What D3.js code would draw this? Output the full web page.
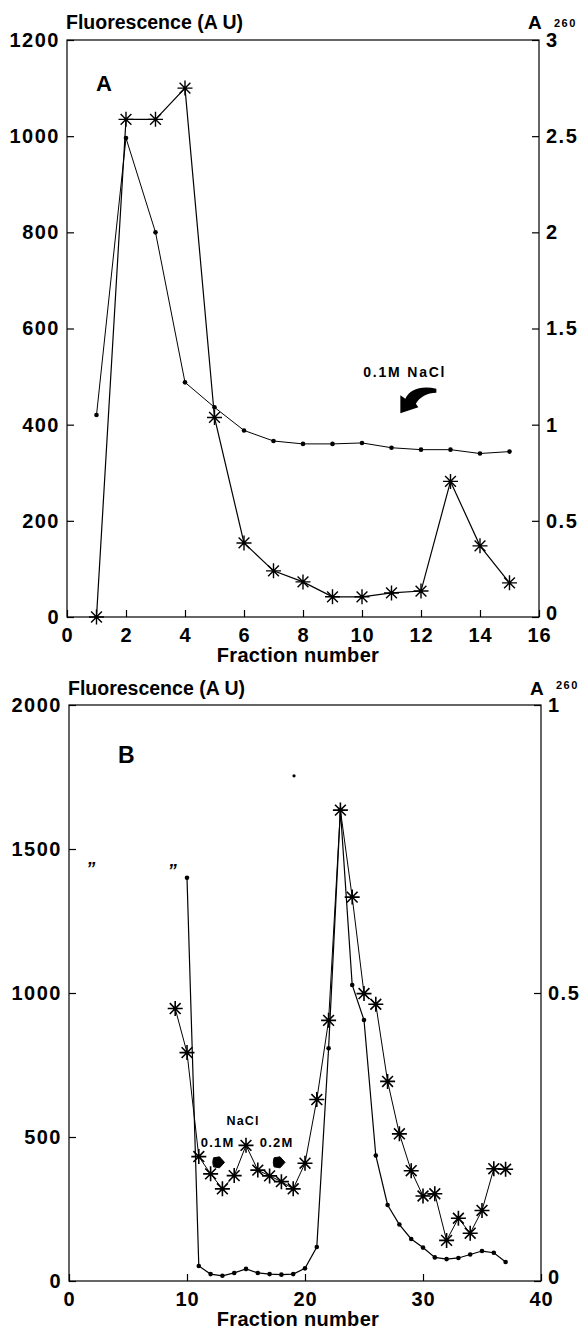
<!DOCTYPE html>
<html>
<head>
<meta charset="utf-8">
<script src="https://cdn.jsdelivr.net/npm/d3@7/dist/d3.min.js"></script>
<style>
  html, body { margin: 0; padding: 0; background: #fff; }
  svg { display: block; }
</style>
</head>
<body>
<script>
// ---------------- DATA ----------------
// Panel A
const aFractions = [1,2,3,4,5,6,7,8,9,10,11,12,13,14,15];
const aFluorescence = [0,1035,1035,1100,415,154,96,73,42,42,50,54,282,148,71];
const aA260 = [1.05,2.49,2.0,1.22,1.09,0.97,0.915,0.9,0.9,0.905,0.88,0.87,0.87,0.85,0.86];
const aXTicks = [0,2,4,6,8,10,12,14,16];
const aYTicks = [0,200,400,600,800,1000,1200];
const aY2Ticks = [0,0.5,1,1.5,2,2.5,3];
const aNaClLabel = [{f: 11.45, v: 500, text: "0.1M NaCl"}];
const aNaClArrow = [{f: 11.3, v: 424}];

// Panel B
const bStarFractions = [9,10,11,12,13,14,15,16,17,18,19,20,21,22,23,24,25,26,27,28,29,30,31,32,33,34,35,36,37];
const bFluorescence = [946,793,432,372,320,366,471,385,365,345,320,409,630,905,1635,1333,998,961,693,511,383,295,303,141,218,166,245,390,388];
const bDotFractions = [10,11,12,13,14,15,16,17,18,19,20,21,22,23,24,25,26,27,28,29,30,31,32,33,34,35,36,37];
const bA260 = [0.70,0.026,0.012,0.009,0.014,0.021,0.014,0.012,0.011,0.012,0.022,0.059,0.404,0.818,0.514,0.453,0.218,0.132,0.098,0.073,0.058,0.041,0.038,0.040,0.046,0.052,0.049,0.033];
const bStrayPoints = [{f: 19.07, a: 0.877}];
const bQuoteMarks = [{f: 1.84, v: 1447}, {f: 8.75, v: 1442}];
const bXTicks = [0,10,20,30,40];
const bYTicks = [0,500,1000,1500,2000];
const bY2Ticks = [0,0.5,1];
const bLabels = [
  {f: 14.75, v: 540, text: "NaCl", size: 12.5},
  {f: 12.6, v: 465, text: "0.1M", size: 13},
  {f: 17.6, v: 465, text: "0.2M", size: 13}
];
const bArrows = [{f: 12.67, v: 412}, {f: 17.8, v: 412}];

// ---------------- DRAWING ----------------
const W = 584, H = 1329;
const FONT = "'Liberation Sans', Arial, Helvetica, sans-serif";
const svg = d3.select("body").append("svg").attr("width", W).attr("height", H)
  .style("font-family", FONT);

function starPath(r) {
  const d = r * 0.72;
  return `M${-r},0L${r},0M0,${-r}L0,${r}M${-d},${-d}L${d},${d}M${-d},${d}L${d},${-d}`;
}

function styleAxis(g, size, spacing) {
  g.select(".domain").remove();
  g.selectAll(".tick line").attr("stroke", "#000").attr("stroke-width", 1.2);
  g.selectAll(".tick text")
    .attr("fill", "#000")
    .style("font-family", FONT)
    .style("font-weight", "bold")
    .style("font-size", size + "px")
    .style("letter-spacing", spacing + "px");
}

function panel(cfg) {
  const g = svg.append("g");
  const x = d3.scaleLinear().domain(cfg.xDomain).range([cfg.left, cfg.right]);
  const y = d3.scaleLinear().domain(cfg.yDomain).range([cfg.bottom, cfg.top]);
  const y2 = d3.scaleLinear().domain(cfg.y2Domain).range([cfg.bottom, cfg.top]);

  // frame
  g.append("rect")
    .attr("x", cfg.left).attr("y", cfg.top)
    .attr("width", cfg.right - cfg.left).attr("height", cfg.bottom - cfg.top)
    .attr("fill", "none").attr("stroke", "#000").attr("stroke-width", 1.2);

  // axes (ticks inward)
  const gx = g.append("g").attr("transform", `translate(0,${cfg.bottom})`)
    .call(d3.axisBottom(x).tickValues(cfg.xTicks).tickSizeInner(-7).tickSizeOuter(0).tickPadding(11).tickFormat(d3.format("d")));
  styleAxis(gx, 20, 0.8);
  const gy = g.append("g").attr("transform", `translate(${cfg.left},0)`)
    .call(d3.axisLeft(y).tickValues(cfg.yTicks).tickSizeInner(-7).tickSizeOuter(0).tickPadding(7).tickFormat(d3.format("d")));
  styleAxis(gy, 20, 1.5);
  const gy2 = g.append("g").attr("transform", `translate(${cfg.right},0)`)
    .call(d3.axisRight(y2).tickValues(cfg.y2Ticks).tickSizeInner(-7).tickSizeOuter(0).tickPadding(7).tickFormat(d => String(d)));
  styleAxis(gy2, 20, 1.5);
  // lowest right-hand label sits a little higher so it clears the x labels
  gy2.selectAll(".tick text").filter(d => d === 0).attr("dy", "0.12em");

  // titles
  g.append("text").attr("x", cfg.left - 1).attr("y", cfg.titleY)
    .style("font-weight", "bold").style("font-size", "19.5px")
    .text("Fluorescence (A U)");
  g.append("text").attr("x", cfg.right - 11).attr("y", cfg.titleY)
    .style("font-weight", "bold").style("font-size", "19px").text("A");
  g.append("text").attr("x", cfg.right + 15).attr("y", cfg.titleY + cfg.subDy)
    .style("font-weight", "bold").style("font-size", "11px").style("letter-spacing", "1.5px").text("260");
  g.append("text").attr("x", 298).attr("y", cfg.bottom + 45)
    .attr("text-anchor", "middle")
    .style("font-weight", "bold").style("font-size", "20px").style("letter-spacing", "0.3px")
    .text("Fraction number");
  g.append("text").attr("x", cfg.letterX).attr("y", cfg.letterY)
    .style("font-weight", "bold").style("font-size", cfg.letterSize + "px").text(cfg.letter);

  return {g, x, y, y2};
}

// ---------- Panel A ----------
const A = panel({
  xDomain: [0,16], yDomain: [0,1200], y2Domain: [0,3],
  left: 67, right: 539, top: 40, bottom: 617,
  xTicks: aXTicks, yTicks: aYTicks, y2Ticks: aY2Ticks,
  titleY: 29, subDy: -2, letter: "A", letterX: 96, letterY: 91, letterSize: 22
});

const aStarData = aFractions.map((f, i) => ({f, v: aFluorescence[i]}));
const aDotData = aFractions.map((f, i) => ({f, a: aA260[i]}));

A.g.append("path").datum(aDotData)
  .attr("fill", "none").attr("stroke", "#000").attr("stroke-width", 1)
  .attr("d", d3.line().x(d => A.x(d.f)).y(d => A.y2(d.a)));
A.g.selectAll(".adot").data(aDotData).join("circle")
  .attr("cx", d => A.x(d.f)).attr("cy", d => A.y2(d.a)).attr("r", 2.3).attr("fill", "#000");

A.g.append("path").datum(aStarData)
  .attr("fill", "none").attr("stroke", "#000").attr("stroke-width", 1.2)
  .attr("d", d3.line().x(d => A.x(d.f)).y(d => A.y(d.v)));
A.g.selectAll(".astar").data(aStarData).join("path")
  .attr("transform", d => `translate(${A.x(d.f)},${A.y(d.v)})`)
  .attr("d", starPath(7.5)).attr("stroke", "#000").attr("stroke-width", 1.4).attr("fill", "none");

A.g.selectAll(".alabel").data(aNaClLabel).join("text")
  .attr("x", d => A.x(d.f)).attr("y", d => A.y(d.v))
  .attr("text-anchor", "middle")
  .style("font-weight", "bold").style("font-size", "14px").style("letter-spacing", "1.8px")
  .text(d => d.text);
A.g.selectAll(".aarrow").data(aNaClArrow).join("path")
  .attr("transform", d => `translate(${A.x(d.f)},${A.y(d.v)})`)
  .attr("d", "M0,0L0,-18L5,-14.5C9,-24 21,-28 36,-24.5L36,-20.5C27,-20.5 19,-16 15.5,-9.5L18,-6Z")
  .attr("fill", "#000");

// ---------- Panel B ----------
const B = panel({
  xDomain: [0,40], yDomain: [0,2000], y2Domain: [0,1],
  left: 69, right: 541, top: 705, bottom: 1281,
  xTicks: bXTicks, yTicks: bYTicks, y2Ticks: bY2Ticks,
  titleY: 695, subDy: -6, letter: "B", letterX: 118, letterY: 763, letterSize: 23
});

const bStarData = bStarFractions.map((f, i) => ({f, v: bFluorescence[i]}));
const bDotData = bDotFractions.map((f, i) => ({f, a: bA260[i]}));

B.g.append("path").datum(bDotData)
  .attr("fill", "none").attr("stroke", "#000").attr("stroke-width", 1.2)
  .attr("d", d3.line().x(d => B.x(d.f)).y(d => B.y2(d.a)));
B.g.selectAll(".bdot").data(bDotData).join("circle")
  .attr("cx", d => B.x(d.f)).attr("cy", d => B.y2(d.a)).attr("r", 2.3).attr("fill", "#000");
B.g.selectAll(".bstray").data(bStrayPoints).join("circle")
  .attr("cx", d => B.x(d.f)).attr("cy", d => B.y2(d.a)).attr("r", 1.6).attr("fill", "#000");

B.g.append("path").datum(bStarData)
  .attr("fill", "none").attr("stroke", "#000").attr("stroke-width", 1)
  .attr("d", d3.line().x(d => B.x(d.f)).y(d => B.y(d.v)));
B.g.selectAll(".bstar").data(bStarData).join("path")
  .attr("transform", d => `translate(${B.x(d.f)},${B.y(d.v)})`)
  .attr("d", starPath(7.5)).attr("stroke", "#000").attr("stroke-width", 1.6).attr("fill", "none");

B.g.selectAll(".bquote").data(bQuoteMarks).join("text")
  .attr("x", d => B.x(d.f)).attr("y", d => B.y(d.v) + 11)
  .attr("text-anchor", "middle")
  .style("font-weight", "bold").style("font-style", "italic").style("font-size", "18px")
  .text("\u201D");

B.g.selectAll(".blabel").data(bLabels).join("text")
  .attr("x", d => B.x(d.f)).attr("y", d => B.y(d.v))
  .attr("text-anchor", "middle")
  .style("font-weight", "bold").style("font-size", d => d.size + "px").style("letter-spacing", "1.2px")
  .text(d => d.text);
B.g.selectAll(".barrow").data(bArrows).join("path")
  .attr("transform", d => `translate(${B.x(d.f)},${B.y(d.v)})`)
  .attr("d", "M-5,-4.5Q-6.5,0 -5,4.5L1,5.5L6,0L1,-5.5Z")
  .attr("fill", "#000").attr("stroke", "#000").attr("stroke-width", 1).attr("stroke-linejoin", "round");
</script>
</body>
</html>
